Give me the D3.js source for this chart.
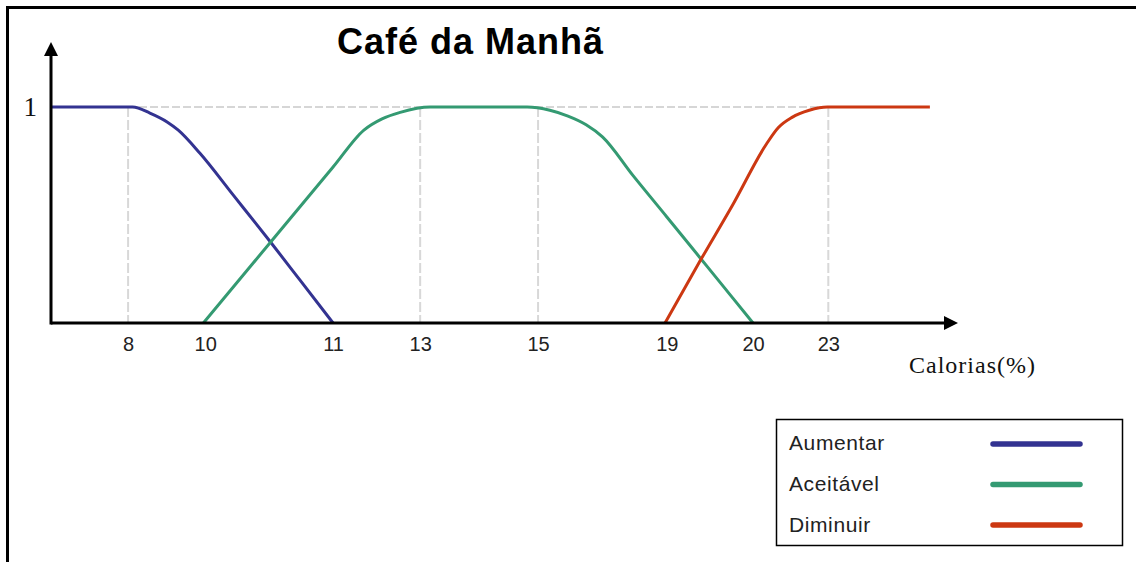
<!DOCTYPE html>
<html>
<head>
<meta charset="utf-8">
<script src="https://cdn.jsdelivr.net/npm/d3@7"></script>
<style>
  html, body { margin: 0; padding: 0; background: #fff; }
  svg { display: block; }
</style>
</head>
<body>
<svg id="chart" width="1136" height="562"></svg>
<script>
// ---- data (x in schematic axis units 0..100, y = membership 0..1) ----
const title = "Café da Manhã";
const xTitle = "Calorias(%)";
const tickLabels = ["8", "10", "11", "13", "15", "19", "20", "23"];
const tickAt     = [8.5, 17.0, 31.1, 40.7, 53.7, 67.9, 77.4, 85.7];
const gridLabels = ["8", "13", "15", "23"];
const seriesNames = ["Aumentar", "Aceitável", "Diminuir"];

const aumentarX = [0, 9.0, 10.9, 12.8, 14.0, 16.4, 20.1, 24.2, 27.5, 31.1];
const aumentarY = [1, 1, 0.972, 0.931, 0.894, 0.787, 0.592, 0.375, 0.196, 0];

const aceitavelX = [16.8, 24.2, 31.1, 34.5, 36.5, 38.5, 41.8, 52.5, 55.0, 57.0, 59.0, 60.8, 64.2, 67.9, 71.6, 75.2, 77.4];
const aceitavelY = [0, 0.374, 0.722, 0.893, 0.945, 0.975, 1, 1, 0.985, 0.958, 0.918, 0.862, 0.681, 0.491, 0.300, 0.114, 0];

const diminuirX = [67.7, 71.6, 75.2, 78.9, 80.2, 81.7, 83.6, 85.6, 96.9];
const diminuirY = [0, 0.29, 0.55, 0.83, 0.905, 0.952, 0.985, 1, 1];

const colors = ["#333391", "#349a72", "#cc3812"];

// ---- drawing ----
const svg = d3.select("#chart");
const x = d3.scaleLinear().domain([0, 100]).range([51, 958]);
const y = d3.scaleLinear().domain([0, 1]).range([323, 107]);

// outer frame (top and left edges)
svg.append("line").attr("x1", 7.5).attr("x2", 1136).attr("y1", 7.5).attr("y2", 7.5)
  .attr("stroke", "#000").attr("stroke-width", 3);
svg.append("line").attr("x1", 7.5).attr("x2", 7.5).attr("y1", 6).attr("y2", 562)
  .attr("stroke", "#000").attr("stroke-width", 3);

// title
svg.append("text").attr("x", 337).attr("y", 54)
  .attr("font-family", "Liberation Sans, Arial, sans-serif")
  .attr("font-weight", "bold").attr("font-size", 36).attr("letter-spacing", 1)
  .attr("fill", "#000").text(title);

// gridlines
const xLast = x(tickAt[tickLabels.indexOf("23")]);
svg.append("line").attr("x1", x(0)).attr("x2", xLast)
  .attr("y1", y(1)).attr("y2", y(1))
  .attr("stroke", "#d6d6d6").attr("stroke-width", 2).attr("stroke-dasharray", "8,3");
svg.append("g").selectAll("line")
  .data(gridLabels.map(l => tickAt[tickLabels.indexOf(l)]))
  .join("line")
  .attr("x1", d => x(d)).attr("x2", d => x(d))
  .attr("y1", y(1)).attr("y2", y(0))
  .attr("stroke", "#d8d8d8").attr("stroke-width", 2).attr("stroke-dasharray", "10,3");

// curves
const line = d3.line().x(d => x(d[0])).y(d => y(d[1])).curve(d3.curveMonotoneX);
const series = [
  aumentarX.map((v, i) => [v, aumentarY[i]]),
  aceitavelX.map((v, i) => [v, aceitavelY[i]]),
  diminuirX.map((v, i) => [v, diminuirY[i]])
];
svg.append("g").selectAll("path").data(series).join("path")
  .attr("d", line).attr("fill", "none")
  .attr("stroke", (d, i) => colors[i]).attr("stroke-width", 3)
  .attr("stroke-linejoin", "round");

// axes lines with arrows
const axisG = svg.append("g");
axisG.append("line").attr("x1", x(0)).attr("x2", x(100) - 10)
  .attr("y1", y(0)).attr("y2", y(0)).attr("stroke", "#000").attr("stroke-width", 3);
axisG.append("path")
  .attr("d", `M${x(100)},${y(0)} L${x(100) - 14},${y(0) - 7} L${x(100) - 14},${y(0) + 7} Z`)
  .attr("fill", "#000");
const yTop = 42;
axisG.append("line").attr("x1", x(0)).attr("x2", x(0))
  .attr("y1", y(0) + 1.5).attr("y2", yTop + 10).attr("stroke", "#000").attr("stroke-width", 3);
axisG.append("path")
  .attr("d", `M${x(0)},${yTop} L${x(0) - 7},${yTop + 14} L${x(0) + 7},${yTop + 14} Z`)
  .attr("fill", "#000");

// x tick labels via d3 axis
const xAxis = d3.axisBottom(x).tickValues(tickAt)
  .tickFormat((d, i) => tickLabels[i]).tickSize(0).tickPadding(14);
const gx = svg.append("g").attr("transform", `translate(0,${y(0)})`).call(xAxis);
gx.select(".domain").remove();
gx.selectAll("text")
  .attr("font-family", "Liberation Sans, Arial, sans-serif")
  .attr("font-size", 20).attr("fill", "#222");

// y label "1"
const yAxis = d3.axisLeft(y).tickValues([1]).tickFormat(d3.format("d")).tickSize(0).tickPadding(14);
const gy = svg.append("g").attr("transform", `translate(${x(0)},0)`).call(yAxis);
gy.select(".domain").remove();
gy.selectAll("text")
  .attr("font-family", "Liberation Serif, Times New Roman, serif")
  .attr("font-size", 27).attr("fill", "#111");

// x title
svg.append("text").attr("x", 909).attr("y", 373)
  .attr("font-family", "Liberation Serif, Times New Roman, serif")
  .attr("font-size", 24).attr("letter-spacing", 1).attr("fill", "#111").text(xTitle);

// legend
const lg = svg.append("g");
lg.append("rect").attr("x", 776.5).attr("y", 419.5).attr("width", 346).attr("height", 126)
  .attr("fill", "#fff").attr("stroke", "#000").attr("stroke-width", 1.5);
const items = lg.selectAll("g.item").data(seriesNames).join("g").attr("class", "item");
items.append("text").attr("x", 789).attr("y", (d, i) => 450 + i * 41)
  .attr("font-family", "Liberation Sans, Arial, sans-serif")
  .attr("font-size", 21).attr("letter-spacing", 0.6).attr("fill", "#222").text(d => d);
items.append("line").attr("x1", 993).attr("x2", 1080)
  .attr("y1", (d, i) => 444 + i * 40.5).attr("y2", (d, i) => 444 + i * 40.5)
  .attr("stroke", (d, i) => colors[i]).attr("stroke-width", 5.5).attr("stroke-linecap", "round");
</script>
</body>
</html>
